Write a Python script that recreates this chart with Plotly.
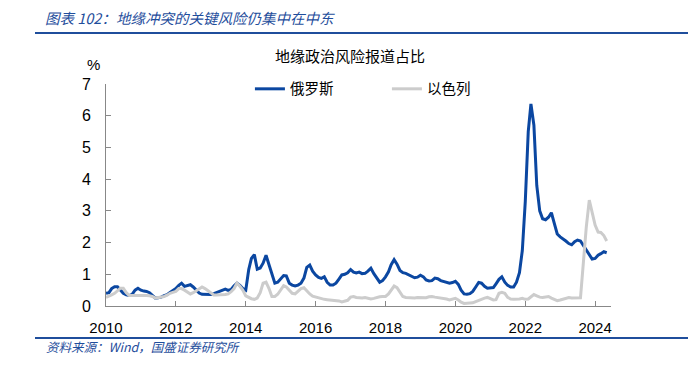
import plotly.graph_objects as go
import pandas as pd

dates = pd.date_range("2010-01-01", "2024-05-01", freq="MS")

russia = [
    0.40, 0.42, 0.55, 0.61, 0.61, 0.50, 0.40, 0.35, 0.33, 0.37, 0.50, 0.56,
    0.50, 0.47, 0.46, 0.42, 0.32, 0.25, 0.26, 0.28, 0.33, 0.36, 0.43, 0.48,
    0.55, 0.65, 0.72, 0.62, 0.64, 0.67, 0.60, 0.50, 0.41, 0.37, 0.36, 0.37,
    0.36, 0.39, 0.42, 0.46, 0.50, 0.53, 0.49, 0.52, 0.64, 0.72, 0.65, 0.55,
    0.50, 1.15, 1.50, 1.62, 1.16, 1.20, 1.35, 1.60, 1.30, 1.00, 0.72, 0.75,
    0.85, 0.96, 0.95, 0.72, 0.66, 0.63, 0.66, 0.72, 0.88, 1.22, 1.29, 1.10,
    0.98, 0.90, 0.87, 0.92, 0.75, 0.66, 0.66, 0.72, 0.85, 0.98, 1.00, 1.05,
    1.15, 1.07, 1.04, 1.07, 1.02, 1.03, 1.10, 1.19, 1.02, 0.88, 0.75, 0.80,
    0.92, 1.08, 1.30, 1.46, 1.32, 1.12, 1.05, 1.03, 0.99, 0.93, 0.89, 0.91,
    0.97, 0.92, 0.82, 0.79, 0.80, 0.88, 0.86, 0.80, 0.77, 0.76, 0.72, 0.74,
    0.78, 0.68, 0.50, 0.38, 0.37, 0.39, 0.46, 0.60, 0.74, 0.72, 0.62, 0.56,
    0.56, 0.58, 0.70, 0.84, 0.92, 0.75, 0.65, 0.60, 0.60, 0.75, 1.05, 1.75,
    3.30, 5.50, 6.37, 5.70, 3.80, 3.00, 2.75, 2.72, 2.80, 2.94, 2.60, 2.27,
    2.18, 2.12, 2.05, 1.97, 1.93, 2.03, 2.08, 2.05, 1.90, 1.75, 1.60, 1.48,
    1.50, 1.60, 1.65, 1.71, 1.68,
]

israel = [
    0.27, 0.30, 0.35, 0.40, 0.48, 0.56, 0.56, 0.42, 0.33, 0.33, 0.34, 0.35,
    0.35, 0.34, 0.33, 0.32, 0.30, 0.25, 0.26, 0.27, 0.30, 0.34, 0.40, 0.43,
    0.46, 0.55, 0.55, 0.50, 0.43, 0.38, 0.42, 0.48, 0.55, 0.60, 0.55, 0.48,
    0.40, 0.35, 0.35, 0.35, 0.36, 0.36, 0.38, 0.45, 0.55, 0.72, 0.62, 0.50,
    0.32, 0.26, 0.23, 0.21, 0.25, 0.42, 0.72, 0.75, 0.55, 0.30, 0.30, 0.37,
    0.52, 0.64, 0.60, 0.48, 0.40, 0.38, 0.46, 0.55, 0.58, 0.47, 0.38, 0.31,
    0.28, 0.25, 0.22, 0.21, 0.20, 0.19, 0.20, 0.18, 0.16, 0.13, 0.15, 0.18,
    0.28, 0.30, 0.27, 0.26, 0.25, 0.27, 0.25, 0.22, 0.24, 0.27, 0.29, 0.30,
    0.30, 0.38, 0.50, 0.63, 0.58, 0.45, 0.30, 0.27, 0.26, 0.25, 0.25, 0.27,
    0.26, 0.25, 0.26, 0.29, 0.30, 0.28, 0.27, 0.26, 0.25, 0.22, 0.19, 0.22,
    0.24, 0.19, 0.12, 0.08, 0.08, 0.08, 0.10, 0.14, 0.18, 0.22, 0.25, 0.27,
    0.22, 0.19, 0.20, 0.40, 0.43, 0.40, 0.27, 0.22, 0.21, 0.21, 0.22, 0.24,
    0.21, 0.22, 0.30, 0.36, 0.32, 0.28, 0.27, 0.28, 0.30, 0.25, 0.20, 0.17,
    0.19, 0.21, 0.24, 0.27, 0.25, 0.25, 0.25, 0.26, 1.40, 2.50, 3.34, 2.90,
    2.55, 2.33, 2.32, 2.22, 2.05,
]

series_names = ["俄罗斯", "以色列"]
y_ticks = [0, 1, 2, 3, 4, 5, 6, 7]
x_ticks = ["2010", "2012", "2014", "2016", "2018", "2020", "2022", "2024"]

BLUE = "#0B47A1"
GRAY = "#CCCCCC"
HEAD = "#1F4E9C"
FONT = "Liberation Sans, Noto Sans CJK SC, sans-serif"
CJK = "Noto Sans CJK SC, sans-serif"

# page body has an 8px margin; figure is sized to fit inside the window
W, H, OFF = 688, 362, 8
PL, PR, PT, PB = 106, 611, 84, 306  # plot edges in page pixels


def px(x):
    return (x - PL) / (PR - PL)


def py(y):
    return (PB - y) / (PB - PT)


fig = go.Figure()
fig.add_trace(go.Scatter(x=dates, y=russia, name=series_names[0], mode="lines",
                         line=dict(color=BLUE, width=3)))
fig.add_trace(go.Scatter(x=dates, y=israel, name=series_names[1], mode="lines",
                         line=dict(color=GRAY, width=3)))

fig.update_layout(
    width=W, height=H,
    margin=dict(l=PL - OFF, r=W - (PR - OFF), t=PT - OFF, b=H - (PB - OFF), pad=0),
    paper_bgcolor="white", plot_bgcolor="white",
    font=dict(family=FONT, size=14, color="black"),
    showlegend=True,
    legend=dict(orientation="h", x=0.285, y=1.05, xanchor="left", yanchor="top",
                font=dict(family=CJK, size=14.5, color="black"),
                bgcolor="rgba(0,0,0,0)", entrywidth=92, itemwidth=30),
    xaxis=dict(
        type="date",
        range=["2010-01-01", "2024-06-15"],
        tickvals=[pd.Timestamp(f"{y}-01-01") for y in x_ticks],
        ticktext=x_ticks,
        ticks="inside", ticklen=5, tickcolor="#888888",
        showline=True, linecolor="#888888", linewidth=1,
        showgrid=False, zeroline=False,
        ticklabelstandoff=8,
        tickfont=dict(size=15, family=FONT),
    ),
    yaxis=dict(
        range=[0, 7], tickvals=y_ticks,
        ticks="inside", ticklen=5, tickcolor="#888888",
        showline=True, linecolor="#888888", linewidth=1,
        showgrid=False, zeroline=False,
        ticklabelstandoff=11,
        tickfont=dict(size=16, family=FONT),
    ),
)

fig.add_annotation(text="图表 102：地缘冲突的关键风险仍集中在中东", xref="paper", yref="paper",
                   x=px(43), y=py(17), xanchor="left", yanchor="middle",
                   showarrow=False,
                   font=dict(family=CJK, size=14.5, color=HEAD, style="italic"))
fig.add_annotation(text="资料来源：Wind，国盛证券研究所", xref="paper", yref="paper",
                   x=px(44), y=py(346), xanchor="left", yanchor="middle",
                   showarrow=False,
                   font=dict(family=CJK, size=12.5, color=HEAD, style="italic"))
fig.add_annotation(text="地缘政治风险报道占比", xref="paper", yref="paper",
                   x=px(350), y=py(56), xanchor="center", yanchor="middle",
                   showarrow=False, font=dict(family=CJK, size=15, color="black"))
fig.add_annotation(text="%", xref="paper", yref="paper",
                   x=px(93), y=py(64), xanchor="center", yanchor="middle",
                   showarrow=False, font=dict(family=FONT, size=15, color="black"))

fig.add_shape(type="line", xref="paper", yref="paper",
              x0=px(35), x1=px(700), y0=py(33), y1=py(33),
              line=dict(color=HEAD, width=2))
fig.add_shape(type="line", xref="paper", yref="paper",
              x0=px(35), x1=px(700), y0=py(338), y1=py(338),
              line=dict(color=HEAD, width=2))

fig.write_html("out.html")
